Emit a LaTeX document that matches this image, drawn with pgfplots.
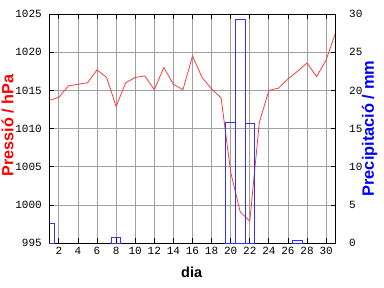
\documentclass[border=0pt]{standalone}
\usepackage{fontspec}
\setmainfont{Liberation Sans}
\newfontfamily\monofont{Liberation Mono}
\usepackage{pgfplots}
\pgfplotsset{compat=1.18}
\definecolor{pline}{RGB}{255,60,60}
\definecolor{pbar}{RGB}{50,50,255}
\definecolor{gridc}{RGB}{160,160,160}
\begin{document}
\begin{tikzpicture}
\pgfplotsset{
  common/.style={
    scale only axis, width=286.4pt, height=229.3pt,
    at={(49.3pt,44.7pt)}, anchor=south west,
    xmin=1, xmax=31,
    tick align=inside, major tick length=5pt,
    tick style={black, line width=0.8pt},
    axis line style={black, line width=0.9pt},
    ticklabel style={font=\monofont\fontsize{11}{11}\selectfont},
    /pgf/number format/assume math mode=true,
    /pgf/number format/1000 sep={},
    scaled ticks=false,
  }
}
\begin{axis}[common,
  ymin=995, ymax=1025,
  xtick={2,4,...,30}, ytick={995,1000,...,1025},
  xtick pos=both, ytick pos=left,
  grid=major, grid style={gridc, line width=0.8pt},
  yticklabel style={xshift=-4pt},
  xlabel={dia}, ylabel={\color{red}Pressió / hPa},
  xlabel style={font=\bfseries\fontsize{14.5}{14.5}\selectfont, at={(axis description cs:0.497,-0.125)}, anchor=center},
  ylabel style={font=\bfseries\fontsize{16.2}{16.2}\selectfont, at={(axis description cs:-0.146,0.514)}, anchor=center},
]
\addplot[pline, line width=0.8pt] coordinates {
(1,1013.7) (2,1014.1) (3,1015.6) (4,1015.8) (5,1016.0) (6,1017.7) (7,1016.7)
(8,1012.9) (9,1016.0) (10,1016.7) (11,1016.9) (12,1015.1) (13,1018.0) (14,1015.8)
(15,1015.1) (16,1019.5) (17,1016.7) (18,1015.2) (19,1014.0) (20,1004.3) (21,999.1)
(22,997.9) (23,1010.8) (24,1015.0) (25,1015.3) (26,1016.5) (27,1017.5) (28,1018.6)
(29,1016.8) (30,1019.0) (31,1022.6)
};
\end{axis}
\begin{axis}[common,
  ymin=0, ymax=30,
  hide x axis,
  axis y line*=right,
  ytick={0,5,...,30},
  yticklabel style={xshift=10pt},
  ylabel={\color{blue}Precipitació / mm},
  ylabel style={font=\bfseries\fontsize{16.4}{16.4}\selectfont, at={(axis description cs:1.118,0.5)}, anchor=center, rotate=0},
]
\addplot[ybar interval, draw=pbar, fill=none, line width=1pt] coordinates {
(0.5,2.6) (1.5,0)
};
\addplot[ybar interval, draw=pbar, fill=none, line width=1pt] coordinates {
(7.5,0.8) (8.5,0)
};
\addplot[ybar interval, draw=pbar, fill=none, line width=1pt] coordinates {
(19.5,15.8) (20.5,29.3) (21.5,15.7) (22.5,0)
};
\addplot[ybar interval, draw=pbar, fill=none, line width=1pt] coordinates {
(26.5,0.4) (27.5,0)
};
\end{axis}
\pgfresetboundingbox
\path[use as bounding box] (0,0) rectangle (384pt,288pt);
\end{tikzpicture}
\end{document}
